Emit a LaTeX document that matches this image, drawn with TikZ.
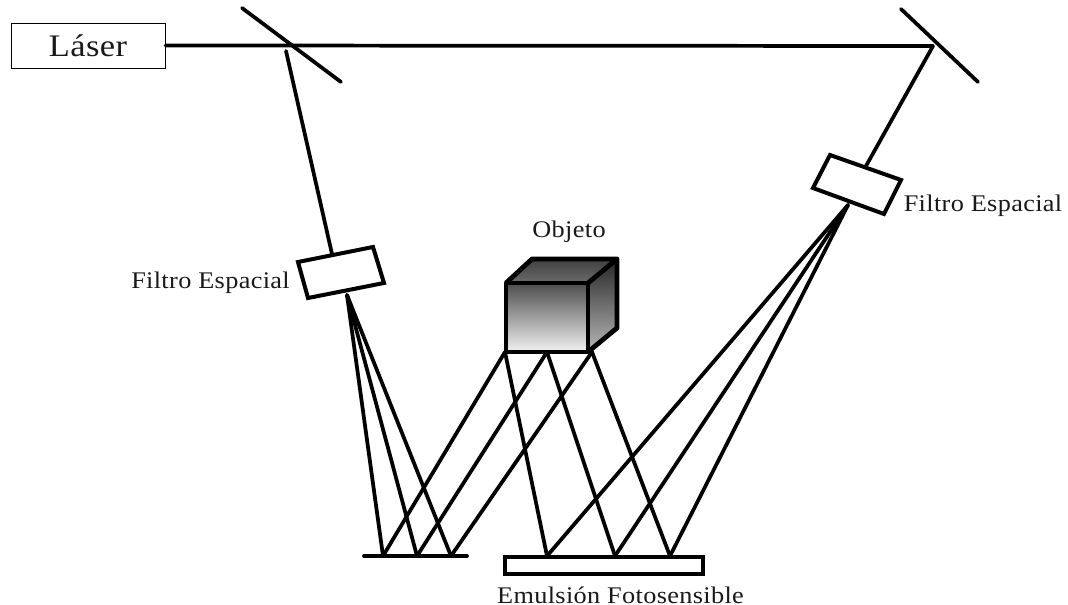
\documentclass[tikz,border=0pt]{standalone}
\usepackage{fontspec}
\setmainfont[FakeStretch=1.1,LetterSpace=1.5]{Liberation Serif}
\tikzset{
  px/.style={x=0.75pt,y=-0.75pt},
  beam/.style={line width=2.8pt,black,line cap=round},
  thick box/.style={draw=black,line width=3pt,fill=white,line join=miter},
  label text/.style={inner sep=0pt,font=\fontsize{17.9pt}{20pt}\selectfont,text=black!90},
  cube edge/.style={draw=black,line width=3.6pt,line join=round}
}
\begin{document}
\begin{tikzpicture}[px]
\useasboundingbox (0,0) rectangle (1068,605);
% junction points
\coordinate (split) at (286,51);
\coordinate (mirrorhit) at (933,46);
\coordinate (sa) at (242,8);
\coordinate (sb) at (341,82);
\coordinate (ma) at (901,9);
\coordinate (mb) at (978,82);
\coordinate (lf) at (347,295);
\coordinate (rf) at (848,205);
\coordinate (lfin) at (332,254);
\coordinate (rfin) at (866,166);
\coordinate (g1) at (383,556);
\coordinate (g2) at (417,556);
\coordinate (g3) at (451,556);
\coordinate (ga) at (364,556);
\coordinate (gb) at (467,556);
\coordinate (e1) at (547,556);
\coordinate (e2) at (615,556);
\coordinate (e3) at (670,556);
\coordinate (o1) at (505,352);
\coordinate (o2) at (547,352);
\coordinate (o3) at (592,352);
% laser
\node[draw=black,line width=0.6pt,minimum width=115.5pt,minimum height=33.75pt,inner sep=0pt,font=\fontsize{23.5pt}{26pt}\selectfont,text=black!90] (laser) at (88,45.5) {\raisebox{-1pt}{Láser}};
% beams
\draw[beam] (laser.east) -- (mirrorhit);
\draw[beam] (split) -- (lfin);
\draw[beam] (mirrorhit) -- (rfin);
\draw[beam] (sa) -- (sb);
\draw[beam] (ma) -- (mb);
\draw[beam] (lf) -- (g1);
\draw[beam] (lf) -- (g2);
\draw[beam] (lf) -- (g3);
\draw[beam] (rf) -- (e1);
\draw[beam] (rf) -- (e2);
\draw[beam] (rf) -- (e3);
\draw[beam] (o1) -- (g1);
\draw[beam] (o1) -- (e1);
\draw[beam] (o2) -- (g2);
\draw[beam] (o2) -- (e2);
\draw[beam] (o3) -- (g3);
\draw[beam] (o3) -- (e3);
\draw[beam] (ga) -- (gb);
% filters
\draw[thick box] (298,262) -- (373,247) -- (384,283) -- (308,298) -- cycle;
\draw[thick box] (830,155) -- (901,180) -- (884,214) -- (813,188) -- cycle;
% emulsion plate
\node[thick box,minimum width=148.5pt,minimum height=12.75pt,inner sep=0pt] (plate) at (604,565.5) {};
% cube
\path[top color=black!75,bottom color=black!58] (506,283) -- (532,259) -- (617,259) -- (588,283) -- cycle;
\path[top color=black!85,bottom color=black!28] (588,283) -- (617,259) -- (617,328) -- (588,352) -- cycle;
\path[top color=black!70,bottom color=black!5] (506,283) rectangle (588,352);
\path[cube edge] (506,283) rectangle (588,352);
\path[cube edge] (506,283) -- (532,259) -- (617,259) -- (617,328) -- (588,352);
\path[cube edge] (588,283) -- (617,259);
% labels
\node[label text] (objeto) at (569,231.5) {Objeto};
\node[label text] (filtroL) at (210.5,282.5) {Filtro Espacial};
\node[label text] (filtroR) at (983,205.5) {Filtro Espacial};
\node[label text] (emulsion) at (620.5,595) {Emulsión Fotosensible};
\end{tikzpicture}
\end{document}
